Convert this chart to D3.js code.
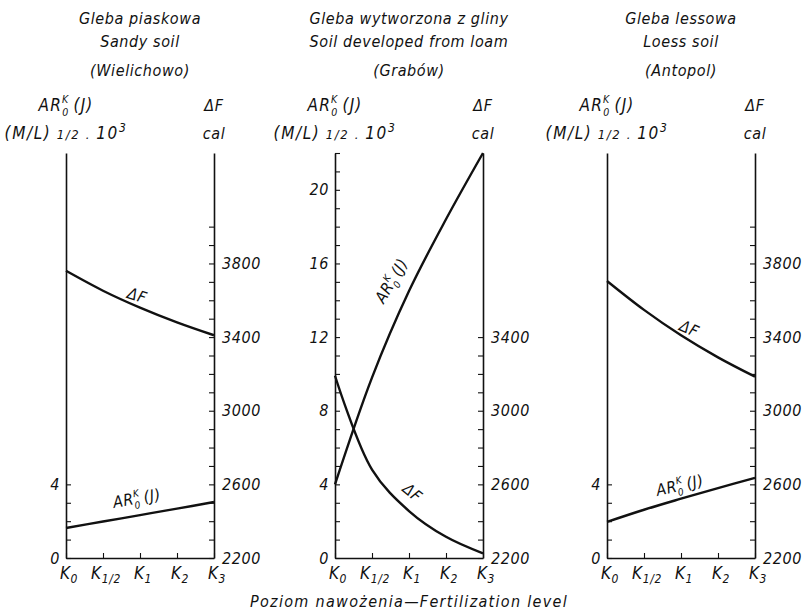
<!DOCTYPE html>
<html>
<head>
<meta charset="utf-8">
<script src="https://cdn.jsdelivr.net/npm/d3@7"></script>
<style>
  body { margin: 0; background: #fff; }
  svg text {
    font-family: "DejaVu Sans Condensed", "DejaVu Sans", sans-serif;
    font-stretch: condensed;
    font-style: italic;
    letter-spacing: 0.6px;
    fill: #111;
  }
</style>
</head>
<body>
<svg id="chart" width="811" height="614"></svg>
<script>
// fertilization levels (x axis)
const levels = ["K0", "K1/2", "K1", "K2", "K3"];

// AR0K(J) in (M/L)^1/2 . 10^3, and free energy dF in cal
const sandyAR = [1.63, 1.98, 2.33, 2.68, 3.04];
const sandyDF = [3760, 3652, 3560, 3480, 3410];
const loamAR = [4.0, 9.8, 14.5, 18.4, 22.0];
const loamDF = [3190, 2680, 2455, 2315, 2225];
const loessAR = [1.96, 2.62, 3.22, 3.8, 4.35];
const loessDF = [3705, 3548, 3410, 3290, 3185];

// tick values
const leftTicksShort = [0, 1, 2, 3, 4];
const leftTicksLong = d3.range(0, 23, 1);
const rightTicksHigh = d3.range(2200, 4001, 100);
const rightTicksLow = d3.range(2200, 3401, 100);
const leftLabels = [0, 4, 8, 12, 16, 20];
const rightLabels = [2200, 2600, 3000, 3400, 3800];

const titles = [
  ["Gleba piaskowa", "Sandy soil", "(Wielichowo)"],
  ["Gleba wytworzona z gliny", "Soil developed from loam", "(Grabów)"],
  ["Gleba lessowa", "Loess soil", "(Antopol)"]
];

const svg = d3.select("#chart");
const yBot = 558, yTop = 153, panelW = 148;

const yL = d3.scaleLinear().domain([0, 22]).range([yBot, yTop]);
const yR = d3.scaleLinear().domain([2200, 4400]).range([yBot, yTop]);

const panels = [
  { left: 66, ar: sandyAR, df: sandyDF, lt: leftTicksShort, rt: rightTicksHigh,
    dfLab: [137, 296, 18], arLab: [137, 499, -10] },
  { left: 335, ar: loamAR, df: loamDF, lt: leftTicksLong, rt: rightTicksLow,
    dfLab: [412, 493, 40], arLab: [392, 281, -59] },
  { left: 607, ar: loessAR, df: loessDF, lt: leftTicksShort, rt: rightTicksHigh,
    dfLab: [689, 329, 24], arLab: [680, 486, -13] }
];

function arText(g, x, y, angle, size) {
  const t = g.append("text")
    .attr("transform", `translate(${x},${y}) rotate(${angle})`)
    .attr("text-anchor", "middle")
    .attr("y", size * 0.3)
    .attr("font-size", size);
  t.append("tspan").text("AR");
  t.append("tspan").attr("font-size", size * 0.62).attr("dy", -size * 0.45).text("K");
  t.append("tspan").attr("font-size", size * 0.62).attr("dx", -size * 0.42).attr("dy", size * 0.75).text("0");
  t.append("tspan").attr("dx", 4).attr("dy", -size * 0.3).text("(J)");
  return t;
}

panels.forEach((p, i) => {
  const right = p.left + panelW;
  const mid = (p.left + right) / 2;
  const g = svg.append("g");
  const x = d3.scalePoint().domain(levels).range([p.left, right]);

  // titles
  titles[i].forEach((s, j) => {
    g.append("text").attr("x", mid).attr("y", [24, 47, 76][j])
      .attr("text-anchor", "middle").attr("font-size", 16).text(s);
  });

  // axis headers
  arText(g, p.left, 106, 0, 17).style("letter-spacing", "1.2px");
  const ml = g.append("text").attr("x", p.left).attr("y", 139)
    .attr("text-anchor", "middle").attr("font-size", 17).style("letter-spacing", "1.6px");
  ml.append("tspan").text("(M/L)");
  ml.append("tspan").attr("font-size", 13).text(" 1/2 . ");
  ml.append("tspan").text("10");
  ml.append("tspan").attr("font-size", 12).attr("dy", -7).text("3");
  g.append("text").attr("x", right).attr("y", 111).attr("text-anchor", "middle")
    .attr("font-size", 16).text("ΔF");
  g.append("text").attr("x", right).attr("y", 139).attr("text-anchor", "middle")
    .attr("font-size", 16).text("cal");

  // left axis
  const ax = g.append("g").attr("transform", `translate(${p.left},0)`)
    .call(d3.axisLeft(yL).tickValues(p.lt).tickSize(-5).tickSizeOuter(0).tickPadding(6)
      .tickFormat(d => leftLabels.includes(d) ? d : ""));
  // right axis
  const bx = g.append("g").attr("transform", `translate(${right},0)`)
    .call(d3.axisRight(yR).tickValues(p.rt).tickSize(-5).tickSizeOuter(0).tickPadding(8)
      .tickFormat(d => rightLabels.includes(d) ? d : ""));
  // bottom axis
  const cx = g.append("g").attr("transform", `translate(0,${yBot})`)
    .call(d3.axisBottom(x).tickSize(-5).tickSizeOuter(0).tickPadding(10).tickFormat(""));

  [ax, bx, cx].forEach(a => {
    a.attr("font-family", null).attr("font-size", null);
    a.select(".domain").attr("stroke", "#111").attr("stroke-width", 1.6);
    a.selectAll(".tick line").attr("stroke", "#111").attr("stroke-width", 1.1);
    a.selectAll(".tick text").attr("font-size", 16).attr("fill", "#111");
  });

  // x labels with subscripts
  levels.forEach(k => {
    const t = g.append("text").attr("x", x(k) + 3).attr("y", 579)
      .attr("text-anchor", "middle").attr("font-size", 17);
    t.append("tspan").text("K");
    t.append("tspan").attr("font-size", 12).attr("dy", 4).text(k.slice(1));
  });

  // curves
  const lineAR = d3.line().x((d, j) => x(levels[j])).y(d => yL(d)).curve(d3.curveCatmullRom.alpha(0.5));
  const lineDF = d3.line().x((d, j) => x(levels[j])).y(d => yR(d)).curve(d3.curveCatmullRom.alpha(0.5));
  g.append("path").attr("d", lineAR(p.ar)).attr("fill", "none")
    .attr("stroke", "#111").attr("stroke-width", 2.4);
  g.append("path").attr("d", lineDF(p.df)).attr("fill", "none")
    .attr("stroke", "#111").attr("stroke-width", 2.4);

  // curve labels
  g.append("text")
    .attr("transform", `translate(${p.dfLab[0]},${p.dfLab[1]}) rotate(${p.dfLab[2]})`)
    .attr("text-anchor", "middle").attr("y", 5).attr("font-size", 16).text("ΔF");
  arText(g, p.arLab[0], p.arLab[1], p.arLab[2], 16);
});

svg.append("text").attr("x", 409).attr("y", 607).attr("text-anchor", "middle")
  .attr("font-size", 16).style("letter-spacing", "1.3px")
  .text("Poziom nawożenia—Fertilization level");
</script>
</body>
</html>
